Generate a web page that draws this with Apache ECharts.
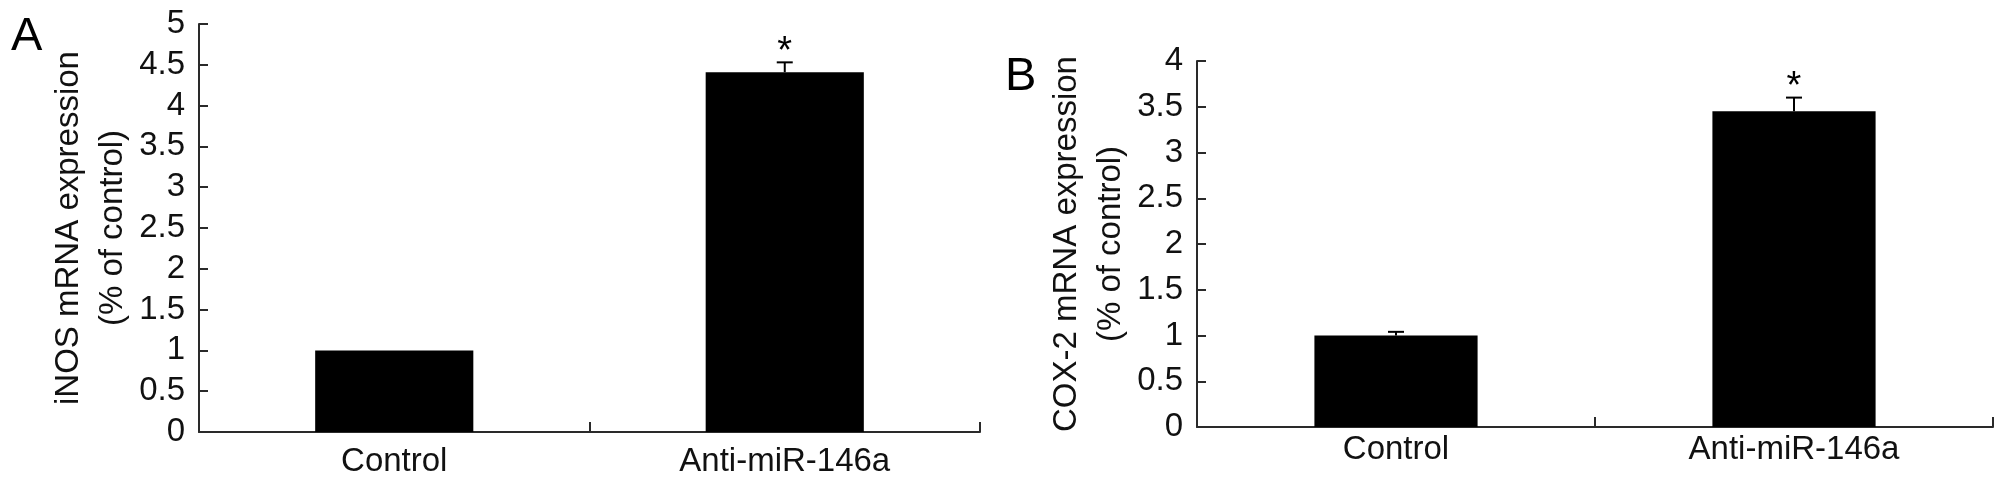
<!DOCTYPE html>
<html>
<head>
<meta charset="utf-8">
<script src="https://cdn.jsdelivr.net/npm/echarts@6/dist/echarts.min.js"></script>
<style>
html,body{margin:0;padding:0;background:#fff;}
#chart{width:2008px;height:487px;}
</style>
</head>
<body>
<div id="chart"></div>
<script>
// ---- data ----
const categories = ['Control', 'Anti-miR-146a'];
const inosMean = [1.0, 4.41];
const inosErr = [0, 0.12];
const inosSig = ['', '*'];
const coxMean = [1.0, 3.45];
const coxErr = [0.04, 0.15];
const coxSig = ['', '*'];
const inosAxis = { min: 0, max: 5, interval: 0.5 };
const coxAxis = { min: 0, max: 4, interval: 0.5 };
const inosName = 'iNOS mRNA expression\n(% of control)';
const coxName = 'COX-2 mRNA expression\n(% of control)';
const panelLabels = ['A', 'B'];

// ---- chart ----
const FONT = '"Liberation Sans", Arial, Helvetica, sans-serif';
const AX = '#2a2a2a';

function errData(mean, err, sig) {
  return mean.map((m, i) => [i, m, err[i]]);
}
const errSig = { 2: inosSig, 3: coxSig };

function renderErr(params, api) {
  const idx = api.value(0), m = api.value(1), e = api.value(2);
  const sig = errSig[params.seriesIndex][params.dataIndex];
  const base = api.coord([idx, m]);
  const top = api.coord([idx, m + e]);
  const children = [];
  const style = { stroke: '#000', lineWidth: 2 };
  if (e > 0) {
    children.push({ type: 'line', shape: { x1: base[0], y1: base[1], x2: top[0], y2: top[1] }, style });
    children.push({ type: 'line', shape: { x1: top[0] - 8, y1: top[1], x2: top[0] + 8, y2: top[1] }, style });
  }
  if (sig) {
    children.push({ type: 'text', style: { text: sig, x: top[0], y: top[1] - 10, align: 'center', verticalAlign: 'middle', font: '38px ' + FONT, fill: '#000' } });
  }
  return { type: 'group', children };
}

function yAxisCfg(ax, name, gridIndex, nameGap) {
  return {
    type: 'value', gridIndex, min: ax.min, max: ax.max, interval: ax.interval,
    name, nameLocation: 'middle', nameRotate: 90, nameGap,
    nameTextStyle: { fontFamily: FONT, fontSize: 33, color: '#111', lineHeight: 44 },
    axisLine: { show: true, lineStyle: { color: AX, width: 2 } },
    axisTick: { show: true, inside: true, length: 9, lineStyle: { color: AX, width: 2 } },
    axisLabel: { fontFamily: FONT, fontSize: 33, color: '#111', margin: 14 },
    splitLine: { show: false }
  };
}
function xAxisCfg(gridIndex, margin) {
  return {
    type: 'category', gridIndex, data: categories, boundaryGap: true,
    axisLine: { show: true, lineStyle: { color: AX, width: 2 } },
    axisTick: { show: true, inside: true, length: 10, alignWithLabel: false, lineStyle: { color: AX, width: 2 } },
    axisLabel: { fontFamily: FONT, fontSize: 33, color: '#111', margin, interval: 0 },
    splitLine: { show: false }
  };
}

const chart = echarts.init(document.getElementById('chart'), null, { renderer: 'canvas' });
chart.setOption({
  backgroundColor: '#fff',
  animation: false,
  grid: [
    { left: 199, right: 1028, top: 24, bottom: 55, containLabel: false },
    { left: 1197, right: 15, top: 61, bottom: 60, containLabel: false }
  ],
  xAxis: [xAxisCfg(0, 13), xAxisCfg(1, 6)],
  yAxis: [yAxisCfg(inosAxis, inosName, 0, 64), yAxisCfg(coxAxis, coxName, 1, 57)],
  graphic: [
    { type: 'text', left: 11, top: 14, style: { text: panelLabels[0], font: '47px ' + FONT, fill: '#000' } },
    { type: 'text', left: 1005, top: 54, style: { text: panelLabels[1], font: '47px ' + FONT, fill: '#000' } }
  ],
  series: [
    { type: 'bar', xAxisIndex: 0, yAxisIndex: 0, data: inosMean, barWidth: '40.5%', itemStyle: { color: '#000' } },
    { type: 'bar', xAxisIndex: 1, yAxisIndex: 1, data: coxMean, barWidth: '41%', itemStyle: { color: '#000' } },
    { type: 'custom', xAxisIndex: 0, yAxisIndex: 0, data: errData(inosMean, inosErr, inosSig), renderItem: renderErr, encode: { x: 0, y: 1 }, z: 5 },
    { type: 'custom', xAxisIndex: 1, yAxisIndex: 1, data: errData(coxMean, coxErr, coxSig), renderItem: renderErr, encode: { x: 0, y: 1 }, z: 5 }
  ]
});
</script>
</body>
</html>
